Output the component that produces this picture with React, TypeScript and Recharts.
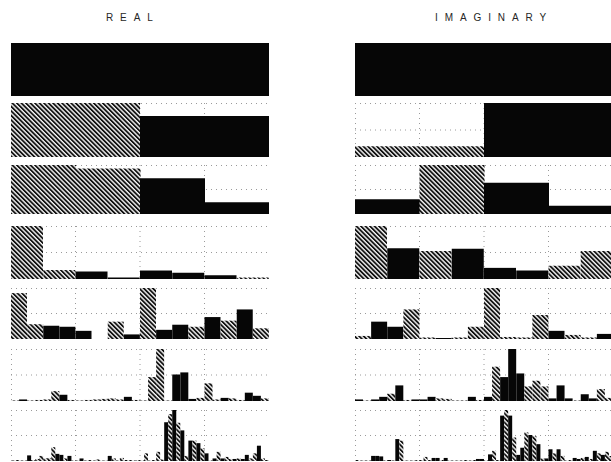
import React from "react";
import { BarChart, Bar, XAxis, YAxis, CartesianGrid, Cell } from "recharts";

// Signed coefficients: positive = hatched bar, negative = black bar
const real1 = [-1];
const real2 = [1, -0.76];
const real3 = [1, 0.93, -0.73, -0.24];
const real4 = [1, 0.17, -0.14, -0.03, -0.16, -0.12, -0.07, 0.03];
const real5 = [0.9, 0.29, -0.26, -0.24, -0.16, 0, 0.34, -0.09, 1, -0.18, -0.28, 0.24, -0.43, 0.36, -0.58, 0.21];
const real6 = [
  0.01, -0.03, 0.01, 0.02, 0.03, 0.19, -0.12, 0.02, 0.01, 0.02, 0.03, 0.04, 0.05, 0.03, -0.08, 0.02,
  0.01, 0.46, 1, 0.01, -0.51, -0.55, -0.04, 0.06, 0.34, 0.03, -0.06, 0.05, 0.02, -0.16, -0.1, 0.05,
];
const real7 = [
  0.01, 0.02, 0.01, 0.01, -0.11, 0.02, 0.04, 0.1, 0.05, 0.06, 0.27, -0.14, -0.12, 0.05, -0.1, 0.01,
  0.01, -0.05, 0.01, 0.02, 0.01, 0.03, 0.01, 0.01, -0.1, 0.05, 0.01, 0.06, 0.02, 0.02, 0.01, 0.02,
  0.01, 0.15, 0.01, 0.02, 0.18, 0.03, -0.76, 0.92, -1, 0.75, -0.6, 0.1, -0.4, 0.4, -0.35, 0.25,
  -0.15, 0.01, -0.05, 0.18, -0.05, 0.08, 0.04, -0.04, 0.05, -0.04, -0.12, 0.05, 0.15, -0.3, 0.05, 0.02,
];

const imag1 = [-1];
const imag2 = [0.2, -1];
const imag3 = [-0.3, 1, -0.64, -0.17];
const imag4 = [1, -0.58, 0.53, -0.57, -0.21, -0.16, 0.25, 0.53];
const imag5 = [0.06, -0.34, -0.24, 0.58, 0.03, -0.02, 0.03, 0.24, 1, 0.04, 0.03, 0.47, -0.16, 0.08, 0.03, -0.1];
const imag6 = [
  -0.03, 0.01, -0.03, -0.08, 0.14, -0.3, 0.02, -0.03, -0.03, -0.08, 0.05, 0.04, 0.01, 0.01, -0.08, 0.02,
  -0.08, 0.66, -0.46, -1, -0.53, 0.28, 0.39, 0.28, -0.05, -0.3, -0.05, 0.01, -0.13, -0.05, 0.23, 0.06,
];
const imag7 = [
  0.02, 0.01, 0.01, 0.01, -0.1, -0.1, -0.09, 0.01, -0.02, 0.01, -0.43, 0.4, 0.01, 0.01, 0.01, 0.02,
  0.02, 0.08, 0.02, -0.06, -0.06, 0.02, -0.06, 0.01, 0.01, 0.01, 0.01, 0.02, 0.01, 0.02, -0.04, -0.04,
  0.01, -0.13, 0.2, 0.02, -0.89, 1, -0.89, 0.46, -0.12, -0.26, 0.56, -0.51, 0.49, -0.33, 0.05, -0.05,
  -0.23, 0.15, -0.23, 0.1, 0.01, 0.02, -0.06, -0.04, 0.06, -0.08, 0.04, -0.2, 0.15, -0.12, 0.18, 0.1,
];

const panelTitles = ["REAL", "IMAGINARY"];
const realRows = [real1, real2, real3, real4, real5, real6, real7];
const imagRows = [imag1, imag2, imag3, imag4, imag5, imag6, imag7];

// layout
const ROW_TOPS = [43, 103, 165, 226, 288, 349, 410];
const ROW_HEIGHTS = [53, 54, 49, 53, 51, 52, 51];
const PANEL_LEFTS = [11, 355];
const PANEL_WIDTH = 258;
const TITLE_X = [106, 435];

function Row({ values, left, top, height }: { values: number[]; left: number; top: number; height: number }) {
  const data = values.map((v, i) => ({ i, mag: Math.abs(v), sign: v >= 0 ? 1 : -1 }));
  return (
    <div style={{ position: "absolute", left, top, width: PANEL_WIDTH, height }}>
      <BarChart
        width={PANEL_WIDTH}
        height={height}
        data={data}
        margin={{ top: 0, right: 0, bottom: 0, left: 0 }}
        barCategoryGap={0}
        barGap={0}
      >
        <CartesianGrid
          stroke="#9a9a9a"
          strokeDasharray="1 4"
          horizontalCoordinatesGenerator={({ offset }: any) => [offset.top + 0.5, offset.top + offset.height / 2]}
          verticalCoordinatesGenerator={({ offset }: any) => [
            offset.left + 0.5,
            offset.left + offset.width / 4,
            offset.left + offset.width / 2,
            offset.left + (offset.width * 3) / 4,
          ]}
        />
        <XAxis dataKey="i" hide />
        <YAxis hide domain={[0, 1]} allowDataOverflow />
        <Bar dataKey="mag" isAnimationActive={false}>
          {data.map((d, k) => (
            <Cell key={k} fill={d.sign > 0 ? "url(#hatch)" : "#060606"} />
          ))}
        </Bar>
      </BarChart>
    </div>
  );
}

export default function App() {
  const panels = [realRows, imagRows];
  return (
    <div
      style={{
        position: "absolute",
        left: 0,
        top: 0,
        width: 611,
        height: 462,
        overflow: "hidden",
        background: "#fff",
      }}
    >
      <svg width={611} height={462} style={{ position: "absolute", left: 0, top: 0 }}>
        <defs>
          <pattern id="hatch" patternUnits="userSpaceOnUse" width={3.2} height={3.2} patternTransform="rotate(-45)">
            <rect x={0} y={0} width={3.2} height={3.2} fill="#f4f4f4" />
            <rect x={0} y={0} width={1.8} height={3.2} fill="#111" />
          </pattern>
        </defs>
        {panelTitles.map((t, k) => (
          <text
            key={t}
            x={TITLE_X[k]}
            y={21}
            fontSize={10}
            letterSpacing={6.9}
            fill="#262626"
            fontFamily="'Liberation Sans', Arial, sans-serif"
          >
            {t}
          </text>
        ))}
      </svg>
      {panels.map((rows, p) =>
        rows.map((vals, r) => (
          <Row key={`${p}-${r}`} values={vals} left={PANEL_LEFTS[p]} top={ROW_TOPS[r]} height={ROW_HEIGHTS[r]} />
        ))
      )}
    </div>
  );
}
